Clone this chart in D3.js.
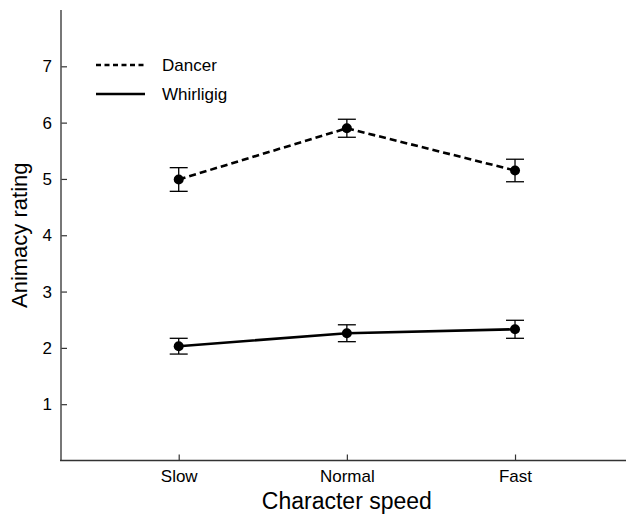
<!DOCTYPE html>
<html lang="en">
<head>
<meta charset="UTF-8">
<script src="https://cdn.jsdelivr.net/npm/d3@7"></script>
<style>
  body { margin: 0; background: #fff; }
  svg text { font-family: "Liberation Sans", Arial, Helvetica, sans-serif; fill: #000; }
</style>
</head>
<body>
<script>
// chart values
var speeds = ["Slow", "Normal", "Fast"];
var seriesNames = ["Dancer", "Whirligig"];
var dancerMean = [4.99, 5.90, 5.15];
var dancerErr = [0.21, 0.16, 0.20];
var whirlMean = [2.03, 2.26, 2.33];
var whirlErr = [0.14, 0.15, 0.16];
var yTicks = [1, 2, 3, 4, 5, 6, 7];

var series = [
    {name: seriesNames[0], mean: dancerMean, err: dancerErr, dash: "7,4"},
    {name: seriesNames[1], mean: whirlMean, err: whirlErr, dash: null}
];

var width = 626, height = 515;
var svg = d3.select("body").append("svg")
    .attr("width", width)
    .attr("height", height);

var x = d3.scaleLinear().domain([-0.7, 2.66]).range([61, 626]);
var y = d3.scaleLinear().domain([0, 8]).range([460.5, 10]);

// axes, ticks point inward
var yAxis = d3.axisRight(y).tickValues(yTicks).tickSize(6).tickFormat(d3.format("d"));
var gy = svg.append("g").attr("transform", "translate(61,0)").call(yAxis);
gy.select(".domain").remove();
gy.selectAll(".tick line").attr("stroke", "#333").attr("stroke-width", 1.2);
gy.selectAll(".tick text")
    .attr("x", -9).attr("text-anchor", "end")
    .style("font-size", "17px").attr("fill", "#000");

var xAxis = d3.axisTop(x).tickValues([0, 1, 2]).tickSize(6).tickFormat(function(i){ return speeds[i]; });
var gx = svg.append("g").attr("transform", "translate(0,460.5)").call(xAxis);
gx.select(".domain").remove();
gx.selectAll(".tick line").attr("stroke", "#333").attr("stroke-width", 1.2);
gx.selectAll(".tick text")
    .attr("y", 21).attr("dy", null)
    .style("font-size", "17px").attr("fill", "#000");

svg.append("line").attr("x1", 61).attr("x2", 61).attr("y1", 10).attr("y2", 461)
    .attr("stroke", "#555").attr("stroke-width", 1.6);
svg.append("line").attr("x1", 60).attr("x2", 626).attr("y1", 460.5).attr("y2", 460.5)
    .attr("stroke", "#333").attr("stroke-width", 1.6);

// axis titles
svg.append("text")
    .attr("x", x(1)).attr("y", 509)
    .attr("text-anchor", "middle")
    .style("font-size", "23px")
    .text("Character speed");

svg.append("text")
    .attr("transform", "translate(27," + y(4) + ") rotate(-90)")
    .attr("text-anchor", "middle")
    .style("font-size", "22px")
    .text("Animacy rating");

// lines, error bars, points
var line = d3.line()
    .x(function(d, i){ return x(i); })
    .y(function(d){ return y(d); });

series.forEach(function(s) {
    svg.append("path")
        .datum(s.mean)
        .attr("d", line)
        .attr("fill", "none")
        .attr("stroke", "#000")
        .attr("stroke-width", 2.6)
        .attr("stroke-dasharray", s.dash);

    var g = svg.append("g").selectAll("g").data(s.mean).enter().append("g");
    g.append("line")
        .attr("x1", function(d, i){ return x(i); })
        .attr("x2", function(d, i){ return x(i); })
        .attr("y1", function(d, i){ return y(d + s.err[i]); })
        .attr("y2", function(d, i){ return y(d - s.err[i]); })
        .attr("stroke", "#000").attr("stroke-width", 1.3);
    [1, -1].forEach(function(sign) {
        g.append("line")
            .attr("x1", function(d, i){ return x(i) - 9; })
            .attr("x2", function(d, i){ return x(i) + 9; })
            .attr("y1", function(d, i){ return y(d + sign * s.err[i]); })
            .attr("y2", function(d, i){ return y(d + sign * s.err[i]); })
            .attr("stroke", "#000").attr("stroke-width", 1.3);
    });
    g.append("circle")
        .attr("cx", function(d, i){ return x(i); })
        .attr("cy", function(d){ return y(d); })
        .attr("r", 5)
        .attr("fill", "#000");
});

// legend
var legend = svg.append("g").selectAll("g").data(series).enter().append("g")
    .attr("transform", function(d, i){ return "translate(0," + (65 + i * 29) + ")"; });
legend.append("line")
    .attr("x1", 96).attr("x2", 145)
    .attr("stroke", "#000").attr("stroke-width", 2.4)
    .attr("stroke-dasharray", function(d){ return d.dash ? "5,3.5" : null; });
legend.append("text")
    .attr("x", 162).attr("dy", "0.36em")
    .style("font-size", "17px")
    .text(function(d){ return d.name; });
</script>
</body>
</html>
